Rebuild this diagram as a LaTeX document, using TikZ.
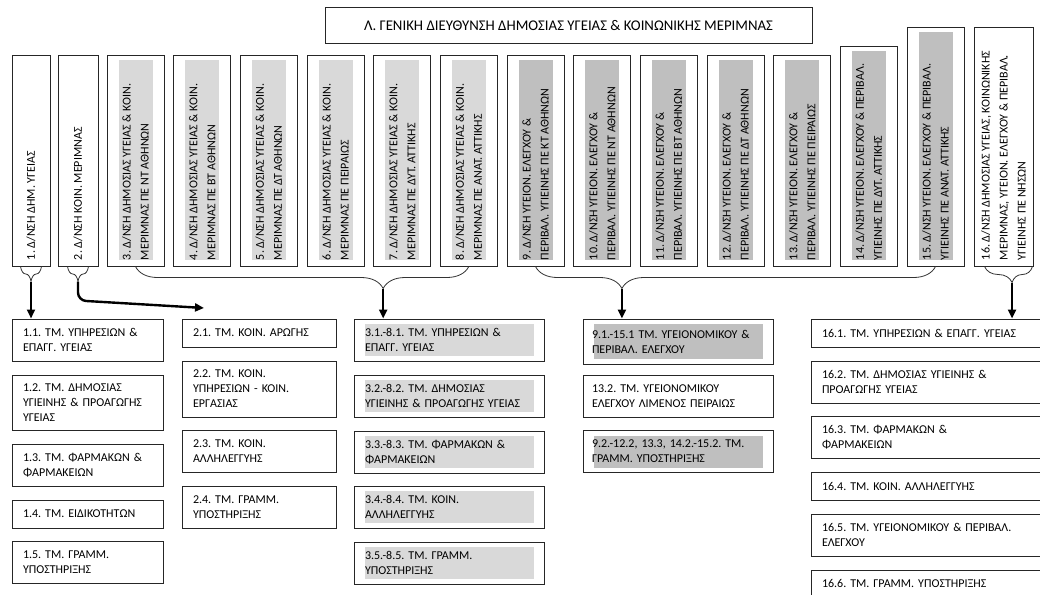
\documentclass[tikz,border=0pt]{standalone}
\usepackage{fontspec}
\setmainfont{Carlito}
\usepackage{graphicx}
\usetikzlibrary{arrows.meta,calc,decorations.pathreplacing}
\frenchspacing

\definecolor{lightfill}{HTML}{D9D9D9}
\definecolor{darkfill}{HTML}{BFBFBF}

% rotated text for the directorate boxes
\newcommand{\vtext}[2]{\rotatebox{90}{\parbox{#1pt}{\raggedright #2}}}

\begin{document}
\begin{tikzpicture}[x=1pt, y=-1pt,
    >={Triangle[length=9pt,width=8pt]},
    dirbox/.style={draw=black!85, line width=1pt, inner sep=0pt, minimum width=57pt,
        minimum height=210pt, font=\fontsize{12}{18}\selectfont},
    dirfill/.style={path picture={\fill[#1] ([xshift=11.5pt,yshift=-4pt]path picture bounding box.north west)
        rectangle ([xshift=-11.5pt,yshift=6pt]path picture bounding box.south east);}},
    tmbox/.style={draw=black!85, line width=1pt, minimum height=42pt, align=left,
        inner xsep=11pt, inner ysep=3pt, font=\fontsize{12}{15}\selectfont},
    tmfill/.style={path picture={\fill[#1] ([xshift=11pt,yshift=-5pt]path picture bounding box.north west)
        rectangle ([xshift=-10pt,yshift=5pt]path picture bounding box.south east);}},
    grpbrace/.style={decorate, decoration={brace, mirror, amplitude=#1}, draw=black!80, line width=0.8pt},
    link/.style={->, line width=2.4pt}]
    \useasboundingbox (0,0) rectangle (1040,594);
    \clip (0,0) rectangle (1040,594);

    % General directorate
    \node[draw=black!85, line width=1pt, minimum width=487pt, minimum height=36pt,
        font=\fontsize{14.8}{17}\selectfont] (gd) at (568.5,26)
        {Λ. ΓΕΝΙΚΗ ΔΙΕΥΘΥΝΣΗ ΔΗΜΟΣΙΑΣ ΥΓΕΙΑΣ \& ΚΟΙΝΩΝΙΚΗΣ ΜΕΡΙΜΝΑΣ};

    % Directorates
    \node[dirbox, minimum width=38pt] (d1) at (31,161) {\vtext{198}{1. Δ/ΝΣΗ ΔΗΜ. ΥΓΕΙΑΣ}};
    \node[dirbox, minimum width=40pt] (d2) at (78,161) {\vtext{198}{2. Δ/ΝΣΗ ΚΟΙΝ. ΜΕΡΙΜΝΑΣ}};
    \node[dirbox, dirfill=lightfill] (d3) at (135.5,161) {\vtext{198}{3. Δ/ΝΣΗ ΔΗΜΟΣΙΑΣ ΥΓΕΙΑΣ \& ΚΟΙΝ.\\ΜΕΡΙΜΝΑΣ ΠΕ ΝΤ ΑΘΗΝΩΝ}};
    \node[dirbox, dirfill=lightfill] (d4) at (202.2,161) {\vtext{198}{4. Δ/ΝΣΗ ΔΗΜΟΣΙΑΣ ΥΓΕΙΑΣ \& ΚΟΙΝ.\\ΜΕΡΙΜΝΑΣ ΠΕ ΒΤ ΑΘΗΝΩΝ}};
    \node[dirbox, dirfill=lightfill] (d5) at (268.8,161) {\vtext{198}{5. Δ/ΝΣΗ ΔΗΜΟΣΙΑΣ ΥΓΕΙΑΣ \& ΚΟΙΝ.\\ΜΕΡΙΜΝΑΣ ΠΕ ΔΤ ΑΘΗΝΩΝ}};
    \node[dirbox, dirfill=lightfill] (d6) at (335.5,161) {\vtext{198}{6. Δ/ΝΣΗ ΔΗΜΟΣΙΑΣ ΥΓΕΙΑΣ \& ΚΟΙΝ.\\ΜΕΡΙΜΝΑΣ ΠΕ ΠΕΙΡΑΙΩΣ}};
    \node[dirbox, dirfill=lightfill] (d7) at (402.2,161) {\vtext{198}{7. Δ/ΝΣΗ ΔΗΜΟΣΙΑΣ ΥΓΕΙΑΣ \& ΚΟΙΝ.\\ΜΕΡΙΜΝΑΣ ΠΕ ΔΥΤ. ΑΤΤΙΚΗΣ}};
    \node[dirbox, dirfill=lightfill] (d8) at (468.8,161) {\vtext{198}{8. Δ/ΝΣΗ ΔΗΜΟΣΙΑΣ ΥΓΕΙΑΣ \& ΚΟΙΝ.\\ΜΕΡΙΜΝΑΣ ΠΕ ΑΝΑΤ. ΑΤΤΙΚΗΣ}};
    \node[dirbox, dirfill=darkfill] (d9) at (535.5,161) {\vtext{198}{9. Δ/ΝΣΗ ΥΓΕΙΟΝ. ΕΛΕΓΧΟΥ \&\\ΠΕΡΙΒΑΛ. ΥΓΙΕΙΝΗΣ ΠΕ ΚΤ ΑΘΗΝΩΝ}};
    \node[dirbox, dirfill=darkfill] (d10) at (602.2,161) {\vtext{198}{10. Δ/ΝΣΗ ΥΓΕΙΟΝ. ΕΛΕΓΧΟΥ \&\\ΠΕΡΙΒΑΛ. ΥΓΙΕΙΝΗΣ ΠΕ ΝΤ ΑΘΗΝΩΝ}};
    \node[dirbox, dirfill=darkfill] (d11) at (668.8,161) {\vtext{198}{11. Δ/ΝΣΗ ΥΓΕΙΟΝ. ΕΛΕΓΧΟΥ \&\\ΠΕΡΙΒΑΛ. ΥΓΙΕΙΝΗΣ ΠΕ ΒΤ ΑΘΗΝΩΝ}};
    \node[dirbox, dirfill=darkfill] (d12) at (735.5,161) {\vtext{198}{12. Δ/ΝΣΗ ΥΓΕΙΟΝ. ΕΛΕΓΧΟΥ \&\\ΠΕΡΙΒΑΛ. ΥΓΙΕΙΝΗΣ ΠΕ ΔΤ ΑΘΗΝΩΝ}};
    \node[dirbox, dirfill=darkfill] (d13) at (802.2,161) {\vtext{198}{13. Δ/ΝΣΗ ΥΓΕΙΟΝ. ΕΛΕΓΧΟΥ \&\\ΠΕΡΙΒΑΛ. ΥΓΙΕΙΝΗΣ ΠΕ ΠΕΙΡΑΙΩΣ}};
    \node[dirbox, dirfill=darkfill, minimum height=219pt] (d14) at (868.8,156.5) {\vtext{207}{14. Δ/ΝΣΗ ΥΓΕΙΟΝ. ΕΛΕΓΧΟΥ \& ΠΕΡΙΒΑΛ.\\ΥΓΙΕΙΝΗΣ ΠΕ ΔΥΤ. ΑΤΤΙΚΗΣ}};
    \node[dirbox, dirfill=darkfill, minimum height=238pt] (d15) at (935.5,147) {\vtext{226}{15. Δ/ΝΣΗ ΥΓΕΙΟΝ. ΕΛΕΓΧΟΥ \& ΠΕΡΙΒΑΛ.\\ΥΓΙΕΙΝΗΣ ΠΕ ΑΝΑΤ. ΑΤΤΙΚΗΣ}};
    \node[dirbox, minimum width=59pt, minimum height=238pt] (d16) at (1003.5,147) {\vtext{226}{16. Δ/ΝΣΗ ΔΗΜΟΣΙΑΣ ΥΓΕΙΑΣ, ΚΟΙΝΩΝΙΚΗΣ\\ΜΕΡΙΜΝΑΣ, ΥΓΕΙΟΝ. ΕΛΕΓΧΟΥ \& ΠΕΡΙΒΑΛ.\\ΥΓΙΕΙΝΗΣ ΠΕ ΝΗΣΩΝ}};

    % Departments of 1
    \node[tmbox, text width=129pt] (t11) at (87.5,340) {1.1. ΤΜ. ΥΠΗΡΕΣΙΩΝ \&\\ΕΠΑΓΓ. ΥΓΕΙΑΣ};
    \node[tmbox, text width=129pt, minimum height=55pt] (t12) at (87.5,402.5) {1.2. ΤΜ. ΔΗΜΟΣΙΑΣ\\ΥΓΙΕΙΝΗΣ \& ΠΡΟΑΓΩΓΗΣ\\ΥΓΕΙΑΣ};
    \node[tmbox, text width=129pt] (t13) at (87.5,465) {1.3. ΤΜ. ΦΑΡΜΑΚΩΝ \&\\ΦΑΡΜΑΚΕΙΩΝ};
    \node[tmbox, text width=129pt, minimum height=28pt] (t14) at (87.5,514) {1.4. ΤΜ. ΕΙΔΙΚΟΤΗΤΩΝ};
    \node[tmbox, text width=129pt] (t15) at (87.5,562.5) {1.5. ΤΜ. ΓΡΑΜΜ.\\ΥΠΟΣΤΗΡΙΞΗΣ};

    % Departments of 2
    \node[tmbox, text width=132pt, minimum height=28pt] (t21) at (259,333) {2.1. ΤΜ. ΚΟΙΝ. ΑΡΩΓΗΣ};
    \node[tmbox, text width=132pt, minimum height=56pt] (t22) at (259,389) {2.2. ΤΜ. ΚΟΙΝ.\\ΥΠΗΡΕΣΙΩΝ - ΚΟΙΝ.\\ΕΡΓΑΣΙΑΣ};
    \node[tmbox, text width=132pt] (t23) at (259,451.5) {2.3. ΤΜ. ΚΟΙΝ.\\ΑΛΛΗΛΕΓΓΥΗΣ};
    \node[tmbox, text width=132pt] (t24) at (259,507) {2.4. ΤΜ. ΓΡΑΜΜ.\\ΥΠΟΣΤΗΡΙΞΗΣ};

    % Departments of 3-8
    \node[tmbox, tmfill=lightfill, text width=168pt] (t31) at (449,340) {3.1.-8.1. ΤΜ. ΥΠΗΡΕΣΙΩΝ \&\\ΕΠΑΓΓ. ΥΓΕΙΑΣ};
    \node[tmbox, tmfill=lightfill, text width=168pt] (t32) at (449,396) {3.2.-8.2. ΤΜ. ΔΗΜΟΣΙΑΣ\\ΥΓΙΕΙΝΗΣ \& ΠΡΟΑΓΩΓΗΣ ΥΓΕΙΑΣ};
    \node[tmbox, tmfill=lightfill, text width=168pt] (t33) at (449,452) {3.3.-8.3. ΤΜ. ΦΑΡΜΑΚΩΝ \&\\ΦΑΡΜΑΚΕΙΩΝ};
    \node[tmbox, tmfill=lightfill, text width=168pt] (t34) at (449,507) {3.4.-8.4. ΤΜ. ΚΟΙΝ.\\ΑΛΛΗΛΕΓΓΥΗΣ};
    \node[tmbox, tmfill=lightfill, text width=168pt] (t35) at (449,563) {3.5.-8.5. ΤΜ. ΓΡΑΜΜ.\\ΥΠΟΣΤΗΡΙΞΗΣ};

    % Departments of 9-15
    \node[tmbox, tmfill=darkfill, text width=172pt, inner xsep=9pt, minimum height=45pt] (t91) at (678,341.5) {9.1.-15.1 ΤΜ. ΥΓΕΙΟΝΟΜΙΚΟΥ \&\\ΠΕΡΙΒΑΛ. ΕΛΕΓΧΟΥ};
    \node[tmbox, text width=172pt, inner xsep=9pt] (t132) at (678,396) {13.2. ΤΜ. ΥΓΕΙΟΝΟΜΙΚΟΥ\\ΕΛΕΓΧΟΥ ΛΙΜΕΝΟΣ ΠΕΙΡΑΙΩΣ};
    \node[tmbox, tmfill=darkfill, text width=172pt, inner xsep=9pt] (t92) at (678,451.5) {9.2.-12.2, 13.3, 14.2.-15.2. ΤΜ.\\ΓΡΑΜΜ. ΥΠΟΣΤΗΡΙΞΗΣ};

    % Departments of 16
    \node[tmbox, text width=218pt, minimum height=28pt] (t161) at (931,333) {16.1. ΤΜ. ΥΠΗΡΕΣΙΩΝ \& ΕΠΑΓΓ. ΥΓΕΙΑΣ};
    \node[tmbox, text width=218pt] (t162) at (931,382) {16.2. ΤΜ. ΔΗΜΟΣΙΑΣ ΥΓΙΕΙΝΗΣ \&\\ΠΡΟΑΓΩΓΗΣ ΥΓΕΙΑΣ};
    \node[tmbox, text width=218pt] (t163) at (931,437.5) {16.3. ΤΜ. ΦΑΡΜΑΚΩΝ \&\\ΦΑΡΜΑΚΕΙΩΝ};
    \node[tmbox, text width=218pt, minimum height=28pt] (t164) at (931,486) {16.4. ΤΜ. ΚΟΙΝ. ΑΛΛΗΛΕΓΓΥΗΣ};
    \node[tmbox, text width=218pt] (t165) at (931,535) {16.5. ΤΜ. ΥΓΕΙΟΝΟΜΙΚΟΥ \& ΠΕΡΙΒΑΛ.\\ΕΛΕΓΧΟΥ};
    \node[tmbox, text width=218pt, minimum height=42pt] (t166) at (931,591) {16.6. ΤΜ. ΓΡΑΜΜ. ΥΠΟΣΤΗΡΙΞΗΣ\\\mbox{}};

    % Braces under the directorates
    \draw[grpbrace=15pt] ([xshift=9pt]d1.south west) -- ([xshift=-9pt]d1.south east);
    \draw[grpbrace=15pt] ([xshift=10pt]d2.south west) -- ([xshift=-10pt]d2.south east);
    \draw[grpbrace=22pt, decoration={aspect=0.743}] (d3.south) -- (d8.south);
    \draw[grpbrace=22pt, decoration={aspect=0.216}] (d9.south) -- (d15.south);
    \draw[grpbrace=16pt, decoration={aspect=0.574}] ([xshift=11pt]d16.south west) -- ([xshift=-1pt]d16.south east);
    \coordinate (b1) at ($(d1.south)+(0,15)$);
    \coordinate (b2) at ($(d2.south)+(0,15)$);
    \coordinate (b3) at ($(d3.south)!0.743!(d8.south)+(0,22)$);
    \coordinate (b9) at ($(d9.south)!0.216!(d15.south)+(0,22)$);
    \coordinate (b16) at ($([xshift=11pt]d16.south west)!0.574!([xshift=-1pt]d16.south east)+(0,16)$);
    \coordinate (a2) at (204,308);

    % Arrows to the departments
    \draw[link] (b1) -- (b1 |- t11.north);
    \draw[link, rounded corners=8pt] (b2) -- ++(0,19) -- (a2);
    \draw[link] (b3) -- (b3 |- t31.north);
    \draw[link] (b9) -- (b9 |- t91.north);
    \draw[link] (b16) -- (b16 |- t161.north);
\end{tikzpicture}
\end{document}
